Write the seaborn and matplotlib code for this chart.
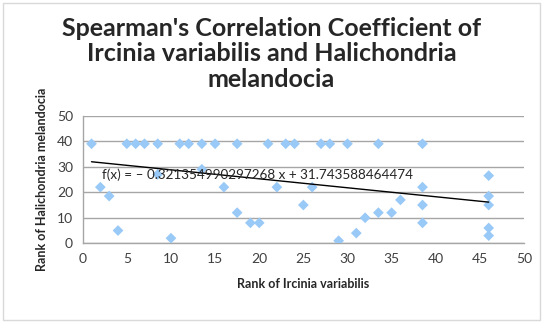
import matplotlib
matplotlib.use("Agg")
import matplotlib.pyplot as plt
import seaborn as sns
import numpy as np
import pandas as pd

sns.set_style("white")
plt.rcParams['font.family'] = ['Lato', 'DejaVu Sans']

# ranks
rank_ircinia = [1, 2, 3, 4, 5, 6, 7, 8.5, 8.5, 10, 11, 12, 13.5, 13.5, 15, 16,
                17.5, 17.5, 19, 20, 21, 22, 23, 24, 25, 26, 27, 28, 29, 30, 31,
                32, 33.5, 33.5, 35, 36, 38.5, 38.5, 38.5, 38.5, 46, 46, 46, 46, 46]
rank_halichondria = [39, 22, 18.5, 5, 39, 39, 39, 39, 27, 2, 39, 39, 39, 29, 39, 22,
                     39, 12, 8, 8, 39, 22, 39, 39, 15, 22, 39, 39, 1, 39, 4,
                     10, 39, 12, 12, 17, 39, 22, 15, 8, 26.5, 18.5, 15, 6, 3]

x_ticks = [0, 5, 10, 15, 20, 25, 30, 35, 40, 45, 50]
y_ticks = [0, 10, 20, 30, 40, 50]

equation = "f(x) = \u2013 0.321354990297268 x + 31.743588464474"
title = "Spearman's Correlation Coefficient of\nIrcinia variabilis and Halichondria\nmelandocia"

df = pd.DataFrame({'x': rank_ircinia, 'y': rank_halichondria})

fig = plt.figure(figsize=(5.43, 3.27), dpi=100)
ax = fig.add_axes([0.1523, 0.256, 0.8127, 0.3902])

# outer chart border
fig.patches.append(plt.Rectangle((0.006, 0.02), 0.988, 0.97, transform=fig.transFigure,
                                 fill=False, edgecolor='#d9d9d9', linewidth=1))

sns.scatterplot(data=df, x='x', y='y', marker='D', s=30, color='#99c9f7',
                edgecolor='none', ax=ax, zorder=3)
sns.regplot(data=df, x='x', y='y', scatter=False, ci=None, truncate=True,
            line_kws={'color': 'black', 'linewidth': 1, 'zorder': 4}, ax=ax)

ax.set_xlim(0, 50)
ax.set_ylim(0, 50)
ax.set_xticks(x_ticks)
ax.set_yticks(y_ticks)
ax.yaxis.grid(True, color='#a6a6a6', linewidth=1)
ax.xaxis.grid(False)
ax.set_axisbelow(True)
for s in ['top', 'right']:
    ax.spines[s].set_visible(False)
for s in ['left', 'bottom']:
    ax.spines[s].set_color('#a6a6a6')
    ax.spines[s].set_linewidth(1)
ax.tick_params(axis='both', which='both', length=4, width=1, color='#a6a6a6',
               labelsize=10, labelcolor='#404040', direction='out', pad=3)

ax.set_xlabel('Rank of Ircinia variabilis', fontsize=9, fontweight='bold', labelpad=9)
ax.set_ylabel('Rank of Halichondria melandocia', fontsize=9, fontweight='bold')
ax.yaxis.set_label_coords(-0.079, 0.5)

ax.text(2.2, 26.7, equation, fontsize=9.7, color='#262626', va='center', ha='left', zorder=5)

fig.text(0.5, 0.948, title, ha='center', va='top', fontsize=18, fontweight='bold',
         linespacing=1.12)

fig.savefig('out.png', dpi=100)
